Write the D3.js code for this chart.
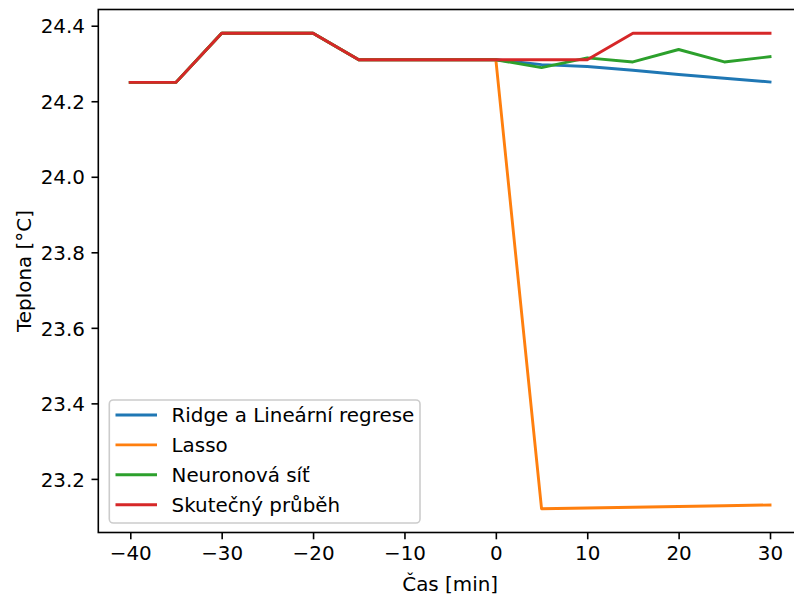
<!DOCTYPE html>
<html>
<head>
<meta charset="utf-8">
<script src="https://cdn.jsdelivr.net/npm/d3@7"></script>
<style>
html,body{margin:0;padding:0;background:#fff;}
svg{display:block;font-family:"DejaVu Sans",sans-serif;}
</style>
</head>
<body>
<svg id="chart" width="794" height="599"></svg>
<script>
const times = [-40,-35,-30,-25,-20,-15,-10,-5,0,5,10,15,20,25,30];
const ridge  = [24.25,24.25,24.38,24.38,24.38,24.31,24.31,24.31,24.31,24.297,24.292,24.282,24.271,24.261,24.251];
const lasso  = [24.25,24.25,24.38,24.38,24.38,24.31,24.31,24.31,24.31,23.121,23.123,23.125,23.127,23.129,23.131];
const neural = [24.25,24.25,24.38,24.38,24.38,24.31,24.31,24.31,24.31,24.289,24.315,24.304,24.337,24.304,24.318];
const actual = [24.25,24.25,24.38,24.38,24.38,24.31,24.31,24.31,24.31,24.31,24.31,24.38,24.38,24.38,24.38];
const seriesNames = ["Ridge a Lineární regrese","Lasso","Neuronová síť","Skutečný průběh"];
const seriesColors = ["#1f77b4","#ff7f0e","#2ca02c","#d62728"];
const xTicks = [-40,-30,-20,-10,0,10,20,30];
const yTicks = [23.2,23.4,23.6,23.8,24.0,24.2,24.4];
const xLabel = "Čas [min]";
const yLabel = "Teplona [°C]";

const series = [ridge, lasso, neural, actual];
const svg = d3.select("#chart");
const L = 98.3, R = 802, T = 9.5, B = 532.5;
const fs = 19.9;

const xExt = d3.extent(times), xPad = (xExt[1]-xExt[0])*0.05;
const allY = series.flat();
const yExt = d3.extent(allY), yPad = (yExt[1]-yExt[0])*0.05;
const x = d3.scaleLinear().domain([xExt[0]-xPad, xExt[1]+xPad]).range([L, R]);
const y = d3.scaleLinear().domain([yExt[0]-yPad, yExt[1]+yPad]).range([B, T]);

const fmtX = d => (d < 0 ? "\u2212" + Math.abs(d) : String(d));

// lines
const line = d3.line().x((d,i)=>x(times[i])).y(d=>y(d));
series.forEach((s,k)=>{
  svg.append("path").datum(s)
    .attr("d", line)
    .attr("fill","none")
    .attr("stroke", seriesColors[k])
    .attr("stroke-width", 2.9)
    .attr("stroke-linejoin","round")
    .attr("stroke-linecap","square");
});

// axes
const xAxis = d3.axisBottom(x).tickValues(xTicks).tickFormat(fmtX).tickSize(6.8).tickPadding(5.5);
const yAxis = d3.axisLeft(y).tickValues(yTicks).tickFormat(d3.format(".1f")).tickSize(6.8).tickPadding(6.5);
const gx = svg.append("g").attr("transform",`translate(0,${B})`).call(xAxis);
const gy = svg.append("g").attr("transform",`translate(${L},0)`).call(yAxis);
[gx,gy].forEach(g=>{
  g.select(".domain").remove();
  g.selectAll(".tick line").attr("stroke","#000").attr("stroke-width",1.6);
  g.selectAll(".tick text").attr("fill","#000").attr("font-size",fs).attr("font-family","DejaVu Sans");
});
gx.selectAll(".tick text").attr("dy","0.74em");
gy.selectAll(".tick text").attr("dy","0.36em");

// frame
svg.append("rect").attr("x",L).attr("y",T).attr("width",R-L).attr("height",B-T)
  .attr("fill","none").attr("stroke","#000").attr("stroke-width",1.6);

// axis labels
svg.append("text").attr("x",(L+R)/2).attr("y",591).attr("text-anchor","middle")
  .attr("font-size",fs).attr("fill","#000").text(xLabel);
svg.append("text").attr("transform",`translate(31,${(T+B)/2}) rotate(-90)`)
  .attr("text-anchor","middle").attr("font-size",fs).attr("fill","#000").text(yLabel);

// legend
const lg = svg.append("g");
lg.append("rect").attr("x",109.3).attr("y",400).attr("width",310.7).attr("height",123)
  .attr("rx",4).attr("fill","#fff").attr("fill-opacity",0.8)
  .attr("stroke","#cccccc").attr("stroke-width",1.6);
seriesNames.forEach((n,k)=>{
  const yy = 415 + k*29.9;
  lg.append("line").attr("x1",115.5).attr("x2",157).attr("y1",yy).attr("y2",yy)
    .attr("stroke",seriesColors[k]).attr("stroke-width",2.9);
  lg.append("text").attr("x",171.5).attr("y",yy).attr("dy","0.36em")
    .attr("font-size",fs).attr("fill","#000").text(n);
});
</script>
</body>
</html>
